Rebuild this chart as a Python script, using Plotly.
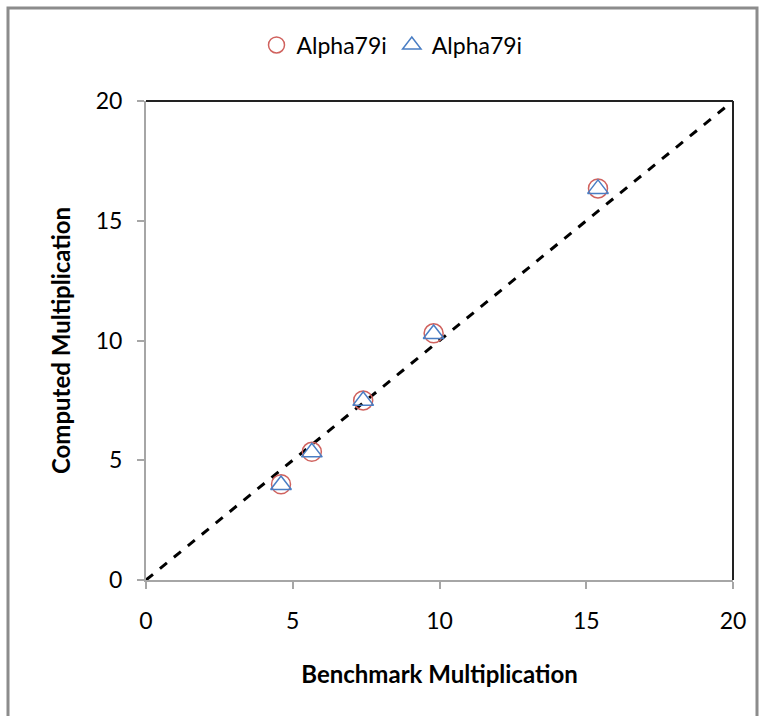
import plotly.graph_objects as go

benchmark = [4.6, 5.65, 7.4, 9.8, 15.4]
computed_a = [4.0, 5.35, 7.5, 10.3, 16.35]
computed_b = [3.97, 5.33, 7.48, 10.27, 16.33]
series_names = ["Alpha79i", "Alpha79i"]
ref_line = [0, 20]
ticks = [0, 5, 10, 15, 20]

FONT = "Lato"

fig = go.Figure()
fig.add_trace(go.Scatter(
    x=ref_line, y=ref_line, mode="lines", showlegend=False,
    line=dict(color="black", width=3, dash="dash"), hoverinfo="skip"))
fig.add_trace(go.Scatter(
    x=benchmark, y=computed_a, mode="markers", name=series_names[0],
    marker=dict(symbol="circle-open", size=19, color="#D0625E",
                line=dict(width=1.5, color="#D0625E"))))
fig.add_trace(go.Scatter(
    x=benchmark, y=computed_b, mode="markers", name=series_names[1],
    marker=dict(symbol="triangle-up-open", size=18, color="#4A7EC4",
                line=dict(width=1.5, color="#4A7EC4"))))

W, H = 769, 716
L, R, T, B = 146, 733, 101, 580
pw, ph = R - L, B - T

def px(x):
    return (x - L) / pw

def py(y):
    return (B - y) / ph

fig.add_shape(type="rect", xref="paper", yref="paper",
              x0=px(8), x1=px(757), y0=py(740), y1=py(8),
              line=dict(color="#8C8C8C", width=3), layer="below")

fig.update_layout(
    width=W, height=H,
    margin=dict(l=L, r=W - R, t=T, b=H - B),
    paper_bgcolor="white", plot_bgcolor="white",
    font=dict(family=FONT, size=20, color="black"),
    legend=dict(orientation="h", x=px(392), xanchor="center", y=py(45), yanchor="middle",
                font=dict(size=23), itemwidth=30, tracegroupgap=0),
    xaxis=dict(range=[0, 20], tickvals=ticks, showgrid=False, zeroline=False,
               showline=True, linecolor="#A6A6A6", linewidth=2, mirror=False,
               ticks="outside", ticklen=7, tickcolor="#A6A6A6", tickwidth=2,
               ticklabelstandoff=12,
               tickfont=dict(size=23),
               title=dict(text="<b>Benchmark Multiplication</b>", font=dict(size=24), standoff=34)),
    yaxis=dict(range=[0, 20], tickvals=ticks, showgrid=False, zeroline=False,
               showline=True, linecolor="#A6A6A6", linewidth=2,
               ticks="outside", ticklen=7, tickcolor="#A6A6A6", tickwidth=2,
               ticklabelstandoff=10,
               tickfont=dict(size=23),
               title=dict(text="<b>Computed Multiplication</b>", font=dict(size=24), standoff=18)),
)
# top and right plot-area borders (dark)
fig.add_shape(type="line", xref="paper", yref="paper", x0=0, x1=1, y0=1, y1=1,
              line=dict(color="#222222", width=2))
fig.add_shape(type="line", xref="paper", yref="paper", x0=1, x1=1, y0=0, y1=1,
              line=dict(color="#222222", width=2))

fig.write_html("out.html")
